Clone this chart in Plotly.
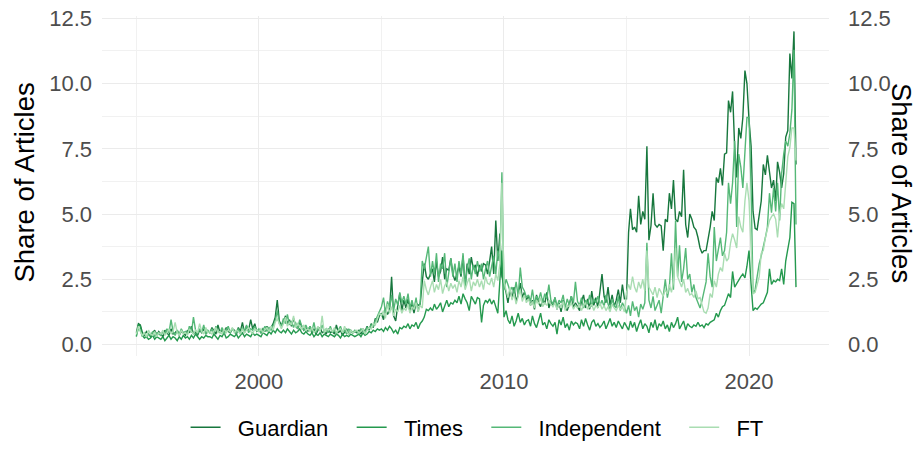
import pandas as pd
import plotly.graph_objects as go

# Monthly share of articles, Jan 1995 - Dec 2021
start_month = "1995-01-01"
series_names = ["Guardian", "Times", "Independent", "FT"]

guardian = [
    0.45, 0.80, 0.75, 0.45, 0.35, 0.50, 0.40, 0.30, 0.45, 0.55, 0.35, 0.50,  # 1995
    0.40, 0.30, 0.55, 0.45, 0.35, 0.60, 0.40, 0.45, 0.55, 0.35, 0.50, 0.45,  # 1996
    0.35, 0.55, 0.45, 0.70, 0.40, 0.50, 0.35, 0.55, 0.45, 0.60, 0.40, 0.50,  # 1997
    0.45, 0.65, 0.50, 0.40, 0.75, 0.45, 0.55, 0.40, 0.65, 0.50, 0.45, 0.60,  # 1998
    0.55, 0.40, 0.65, 0.50, 0.85, 0.45, 0.70, 0.55, 0.95, 0.60, 0.80, 0.50,  # 1999
    0.55, 0.45, 0.60, 0.50, 0.70, 0.55, 0.65, 0.80, 1.05, 1.70, 0.90, 0.75,  # 2000
    0.85, 1.10, 0.80, 0.95, 0.70, 1.00, 0.75, 0.60, 0.85, 0.70, 0.55, 0.65,  # 2001
    0.50, 0.70, 0.45, 0.60, 0.40, 0.55, 0.65, 0.45, 0.50, 0.40, 0.60, 0.45,  # 2002
    0.50, 0.40, 0.75, 0.45, 0.55, 0.35, 0.50, 0.60, 0.40, 0.55, 0.45, 0.50,  # 2003
    0.45, 0.55, 0.40, 0.60, 0.50, 0.70, 0.55, 0.80, 0.65, 1.00, 0.85, 1.10,  # 2004
    1.20, 0.95, 1.40, 1.15, 1.30, 2.60, 1.10, 0.90, 1.50, 1.95, 1.30, 1.70,  # 2005
    1.40, 1.75, 1.25, 1.55, 1.20, 1.60, 1.50, 1.55, 2.40, 3.10, 2.60, 2.50,  # 2006
    2.70, 2.90, 2.40, 3.20, 2.60, 2.80, 3.35, 2.50, 2.90, 2.85, 3.30, 2.70,  # 2007
    2.45, 2.80, 3.00, 2.60, 3.40, 2.20, 3.10, 2.70, 3.35, 2.90, 3.05, 2.60,  # 2008
    3.05, 2.80, 3.10, 3.05, 2.70, 3.20, 3.75, 2.70, 4.75, 3.20, 4.25, 2.60,  # 2009
    2.30, 2.00, 1.60, 2.10, 1.75, 2.20, 1.65, 1.90, 2.35, 1.80, 2.00, 1.70,  # 2010
    1.85, 1.50, 1.70, 1.35, 1.90, 1.60, 1.45, 1.75, 1.55, 2.00, 1.40, 1.65,  # 2011
    1.50, 1.80, 1.35, 1.60, 1.25, 1.70, 1.45, 1.30, 1.55, 1.85, 1.40, 1.60,  # 2012
    1.45, 1.30, 1.65, 1.90, 1.40, 1.75, 1.35, 2.05, 1.50, 1.80, 1.40, 1.95,  # 2013
    2.70, 1.85, 1.60, 2.20, 1.50, 1.90, 1.45, 1.70, 2.10, 1.60, 2.30, 1.75,  # 2014
    1.75, 4.30, 5.20, 4.40, 4.50, 4.30, 5.70, 4.60, 5.10, 4.80, 7.60, 4.00,  # 2015
    4.55, 5.80, 4.60, 4.50, 4.60, 4.55, 3.60, 4.80, 4.70, 5.80, 5.20, 6.30,  # 2016
    4.80, 4.70, 5.10, 4.90, 6.70, 4.60, 4.10, 5.00, 4.80, 4.50, 4.40, 4.10,  # 2017
    3.70, 3.50, 3.60, 3.60, 4.00, 4.50, 5.10, 4.75, 6.40, 6.20, 6.75, 6.10,  # 2018
    7.30, 7.35, 9.35, 8.90, 9.70, 7.55, 6.40, 8.30, 7.90, 8.70, 10.50, 10.00,  # 2019
    8.60, 7.60, 5.10, 4.45, 4.40, 4.90, 5.50, 6.90, 6.50, 7.25, 6.60, 6.00,  # 2020
    6.30, 5.50, 7.00, 6.60, 6.00, 6.55, 7.95, 8.20, 11.15, 10.20, 12.00, 6.90,  # 2021
]

times = [
    0.30, 0.75, 0.70, 0.35, 0.25, 0.30, 0.20, 0.25, 0.35, 0.20, 0.30, 0.25,  # 1995
    0.20, 0.30, 0.15, 0.25, 0.35, 0.20, 0.30, 0.25, 0.15, 0.30, 0.20, 0.35,  # 1996
    0.25, 0.30, 0.20, 0.35, 0.25, 0.40, 0.30, 0.20, 0.30, 0.25, 0.35, 0.30,  # 1997
    0.30, 0.25, 0.40, 0.30, 0.20, 0.35, 0.30, 0.45, 0.25, 0.30, 0.40, 0.35,  # 1998
    0.30, 0.40, 0.25, 0.35, 0.45, 0.30, 0.40, 0.35, 0.30, 0.45, 0.35, 0.40,  # 1999
    0.35, 0.30, 0.45, 0.40, 0.35, 0.50, 0.40, 0.55, 0.45, 0.60, 0.50, 0.45,  # 2000
    0.55, 0.45, 0.60, 0.50, 0.40, 0.55, 0.45, 0.50, 0.60, 0.45, 0.40, 0.50,  # 2001
    0.40, 0.35, 0.45, 0.30, 0.40, 0.35, 0.45, 0.30, 0.40, 0.35, 0.30, 0.40,  # 2002
    0.35, 0.30, 0.40, 0.35, 0.25, 0.40, 0.30, 0.35, 0.30, 0.40, 0.35, 0.30,  # 2003
    0.35, 0.40, 0.30, 0.45, 0.35, 0.40, 0.50, 0.45, 0.55, 0.50, 0.60, 0.55,  # 2004
    0.60, 0.50, 0.65, 0.55, 0.70, 0.60, 0.45, 0.55, 0.40, 0.65, 0.60, 0.70,  # 2005
    0.65, 0.80, 0.60, 0.75, 0.70, 0.85, 0.60, 0.80, 0.90, 1.05, 1.35, 1.30,  # 2006
    1.40, 1.30, 1.55, 1.35, 1.45, 1.60, 1.25, 1.50, 1.70, 1.45, 1.60, 1.55,  # 2007
    1.70, 1.60, 1.85, 1.55, 1.95, 1.75, 1.60, 1.30, 1.85, 1.70, 1.55, 1.80,  # 2008
    1.75, 0.85, 1.50, 1.70, 1.60, 1.75, 1.55, 1.70, 1.45, 1.20, 2.45, 3.60,  # 2009
    1.05, 1.30, 0.95, 0.80, 1.10, 0.70, 0.90, 1.20, 0.85, 1.00, 0.75, 0.90,  # 2010
    0.95, 0.70, 1.10, 0.80, 0.65, 0.90, 1.20, 0.75, 0.85, 0.60, 0.95, 0.80,  # 2011
    0.70, 0.85, 0.40, 0.95, 0.75, 1.05, 0.65, 0.80, 0.55, 0.90, 0.75, 0.85,  # 2012
    0.80, 0.60, 0.95, 0.70, 1.00, 0.75, 0.55, 0.85, 0.95, 0.70, 0.80, 0.65,  # 2013
    0.75, 0.90, 0.60, 0.80, 1.00, 0.70, 0.85, 0.65, 0.90, 0.75, 0.60, 0.85,  # 2014
    0.70, 0.55, 0.90, 0.65, 0.85, 0.50, 0.75, 0.95, 0.60, 0.80, 0.70, 0.45,  # 2015
    0.85, 0.65, 0.95, 0.55, 0.80, 0.70, 0.90, 0.60, 0.75, 0.50, 0.85, 0.65,  # 2016
    0.80, 1.05, 0.60, 0.75, 0.90, 0.55, 0.80, 0.70, 0.65, 0.75, 0.70, 0.85,  # 2017
    0.70, 0.75, 0.65, 0.80, 0.75, 0.85, 0.90, 0.95, 1.20, 1.05, 1.30, 1.45,  # 2018
    1.50, 1.70, 1.95, 1.80, 2.80, 2.20, 2.35, 2.50, 2.60, 2.70, 2.55, 3.00,  # 2019
    3.60, 2.30, 1.30, 1.40, 1.35, 1.45, 1.55, 1.60, 1.80, 2.00, 2.90, 2.30,  # 2020
    2.45, 2.40, 2.50, 2.45, 2.90, 2.30, 3.20, 3.70, 4.10, 5.45, 5.40, 2.20,  # 2021
]

independent = [
    0.35, 0.60, 0.55, 0.30, 0.45, 0.25, 0.40, 0.35, 0.50, 0.30, 0.45, 0.40,  # 1995
    0.35, 0.50, 0.40, 0.60, 0.45, 0.95, 0.50, 0.35, 0.55, 0.40, 0.60, 0.45,  # 1996
    0.50, 0.40, 0.70, 0.45, 1.05, 0.55, 0.40, 0.60, 0.45, 0.75, 0.40, 0.55,  # 1997
    0.45, 0.60, 0.40, 0.70, 0.50, 0.45, 0.65, 0.40, 0.55, 0.70, 0.45, 0.60,  # 1998
    0.50, 0.45, 0.60, 0.40, 0.65, 0.50, 0.75, 0.45, 0.60, 0.55, 0.70, 0.50,  # 1999
    0.60, 0.45, 0.55, 0.70, 0.50, 0.65, 0.55, 0.75, 0.90, 1.30, 0.80, 0.70,  # 2000
    1.00, 0.80, 1.15, 0.75, 0.90, 0.65, 0.85, 0.60, 0.95, 0.70, 0.55, 0.75,  # 2001
    0.55, 0.70, 0.50, 0.85, 0.45, 0.65, 0.55, 0.75, 0.50, 0.60, 0.45, 0.70,  # 2002
    0.45, 0.60, 0.40, 0.55, 0.70, 0.45, 0.55, 0.40, 0.60, 0.50, 0.45, 0.55,  # 2003
    0.50, 0.40, 0.60, 0.55, 0.45, 0.65, 0.60, 0.75, 0.70, 0.90, 1.10, 1.30,  # 2004
    1.45, 1.80, 1.20, 1.65, 1.40, 1.90, 1.30, 1.75, 1.50, 2.00, 1.60, 1.85,  # 2005
    1.55, 1.95, 1.40, 1.70, 1.35, 1.80, 1.25, 1.60, 3.20, 2.90, 3.40, 3.75,  # 2006
    2.60, 3.20, 2.70, 3.50, 2.40, 3.10, 2.90, 3.50, 2.20, 2.75, 3.30, 2.60,  # 2007
    3.10, 2.40, 3.20, 2.70, 3.50, 2.20, 2.90, 3.30, 2.50, 3.05, 2.70, 3.20,  # 2008
    2.80, 3.10, 2.50, 2.90, 3.20, 2.60, 3.00, 3.40, 2.70, 3.60, 3.20, 6.60,  # 2009
    2.10, 2.50, 2.30, 2.05, 2.20, 1.95, 2.40, 1.85, 2.95, 2.20, 2.05, 1.80,  # 2010
    1.90, 1.65, 2.10, 1.55, 1.85, 1.70, 2.00, 1.60, 1.95, 1.75, 2.30, 1.70,  # 2011
    1.55, 1.80, 1.45, 1.70, 1.60, 1.90, 1.40, 1.75, 1.50, 1.85, 1.60, 2.40,  # 2012
    1.65, 1.50, 1.80, 1.40, 1.70, 1.55, 1.90, 1.45, 1.75, 1.60, 1.85, 1.50,  # 2013
    1.70, 1.45, 1.90, 1.55, 1.35, 1.75, 1.50, 1.40, 1.85, 1.30, 1.60, 1.45,  # 2014
    1.20, 1.50, 1.10, 1.65, 1.30, 1.45, 1.05, 1.55, 1.35, 1.60, 3.90, 1.70,  # 2015
    1.40, 1.85, 1.30, 1.55, 1.70, 1.20, 1.95, 2.50, 1.80, 2.20, 3.50, 2.10,  # 2016
    4.75, 2.60, 3.80, 2.40, 2.90, 3.70, 2.50, 2.70, 2.00, 2.30, 1.80, 1.60,  # 2017
    1.40, 1.70, 2.00, 2.40, 3.50, 2.60, 2.20, 4.50, 3.20, 3.60, 4.10, 3.40,  # 2018
    3.60, 4.30, 6.20, 5.40, 6.20, 7.80, 4.50, 7.30, 6.80, 6.00, 7.55, 8.70,  # 2019
    8.70, 6.00, 1.95, 2.10, 2.60, 3.10, 3.40, 3.70, 4.10, 4.50, 5.80, 5.05,  # 2020
    6.00, 5.10, 6.20, 4.75, 6.55, 7.30, 7.80, 7.60, 8.10, 9.00, 11.30, 4.60,  # 2021
]

ft = [
    0.40, 0.70, 0.50, 0.35, 0.45, 0.30, 0.55, 0.40, 0.35, 0.50, 0.30, 0.45,  # 1995
    0.40, 0.55, 0.35, 0.45, 0.60, 0.40, 0.50, 0.85, 0.45, 0.35, 0.55, 0.40,  # 1996
    0.45, 0.35, 0.60, 0.50, 0.40, 0.55, 0.45, 0.80, 0.50, 0.40, 0.65, 0.45,  # 1997
    0.50, 0.40, 0.55, 0.65, 0.45, 0.50, 0.40, 0.60, 0.45, 0.55, 0.50, 0.65,  # 1998
    0.45, 0.55, 0.50, 0.40, 0.60, 0.45, 0.55, 0.65, 0.50, 0.40, 0.60, 0.55,  # 1999
    0.50, 0.60, 0.45, 0.55, 0.65, 0.50, 0.70, 0.55, 0.85, 1.00, 0.75, 0.60,  # 2000
    0.80, 1.05, 0.70, 0.85, 0.75, 1.10, 0.65, 0.80, 0.70, 0.60, 0.75, 0.55,  # 2001
    0.60, 0.50, 0.65, 0.45, 0.55, 0.70, 0.50, 1.10, 0.45, 0.60, 0.55, 0.60,  # 2002
    0.50, 0.65, 0.45, 0.55, 0.60, 0.45, 0.70, 0.50, 0.40, 0.55, 0.45, 0.50,  # 2003
    0.55, 0.45, 0.50, 0.60, 0.40, 0.55, 0.65, 0.60, 0.80, 0.75, 0.95, 1.20,  # 2004
    1.10, 1.30, 1.00, 1.55, 1.20, 1.45, 1.10, 1.35, 1.25, 1.50, 1.20, 1.40,  # 2005
    1.30, 1.55, 1.20, 1.45, 1.35, 1.60, 1.25, 1.50, 1.40, 2.45, 2.10, 1.90,  # 2006
    2.20, 2.45, 2.00, 2.30, 2.10, 2.50, 1.95, 2.25, 2.40, 2.05, 2.35, 2.15,  # 2007
    2.30, 2.00, 2.45, 2.20, 2.60, 2.10, 2.35, 2.55, 2.05, 2.40, 2.25, 2.50,  # 2008
    2.20, 2.45, 2.10, 2.60, 2.35, 2.30, 2.55, 2.20, 2.70, 2.45, 3.10, 6.20,  # 2009
    2.40, 2.05, 1.80, 2.20, 1.70, 1.95, 1.55, 1.85, 2.10, 1.65, 1.90, 1.60,  # 2010
    1.75, 1.50, 1.65, 1.40, 1.70, 1.55, 1.80, 1.45, 1.60, 1.50, 1.70, 1.55,  # 2011
    1.45, 1.60, 1.35, 1.55, 1.40, 1.65, 1.30, 1.50, 1.45, 1.60, 1.35, 1.50,  # 2012
    1.40, 1.55, 1.30, 1.50, 1.60, 1.35, 1.45, 1.55, 1.30, 1.50, 1.40, 1.60,  # 2013
    1.35, 1.50, 1.30, 1.45, 1.25, 1.55, 1.40, 1.30, 1.50, 1.35, 1.45, 1.25,  # 2014
    2.00, 2.30, 2.10, 2.60, 2.20, 2.00, 2.40, 2.15, 2.50, 2.05, 3.60, 2.20,  # 2015
    2.05, 1.90, 2.20, 1.80, 2.15, 2.00, 1.85, 2.10, 1.95, 2.30, 2.00, 2.40,  # 2016
    3.70, 2.60, 2.40, 2.20, 2.50, 2.00, 2.15, 1.90, 1.95, 1.80, 2.05, 1.75,  # 2017
    1.80, 1.50, 1.25, 1.20, 1.40, 1.95, 1.80, 2.45, 2.20, 2.70, 2.95, 2.80,  # 2018
    3.50, 3.20, 3.30, 3.90, 4.25, 4.00, 3.70, 4.90, 4.50, 4.30, 5.50, 6.20,  # 2019
    5.50, 3.70, 1.95, 2.00, 2.35, 2.60, 3.50, 3.60, 4.10, 4.40, 4.75, 4.90,  # 2020
    5.00, 4.80, 4.10, 5.00, 5.40, 5.20, 6.30, 7.20, 7.55, 8.30, 8.30, 7.05,  # 2021
]

colors = ["#17773d", "#24994e", "#55b877", "#a9ddb2"]

y_ticks = [0, 2.5, 5, 7.5, 10, 12.5]
y_tick_labels = ["0.0", "2.5", "5.0", "7.5", "10.0", "12.5"]

n = len(guardian)
assert n == len(times) == len(independent) == len(ft), (len(guardian), len(times), len(independent), len(ft))
dates = pd.date_range(start_month, periods=n, freq="MS")

NB = "\u00a0"
fig = go.Figure()
for name, vals, col in zip(series_names, [guardian, times, independent, ft], colors):
    fig.add_trace(go.Scatter(x=dates, y=vals, mode="lines", name=NB * 2 + name + NB * 3,
                             line=dict(color=col, width=1.4)))

# dummy trace to display the mirrored right axis
fig.add_trace(go.Scatter(x=[dates[0]], y=[None], yaxis="y2", showlegend=False,
                         hoverinfo="skip", mode="lines"))

grid = "#ebebeb"
tick_font = dict(family="Liberation Sans, Arial, sans-serif", size=22, color="#4d4d4d")
y_range = [-0.44, 12.59]

fig.update_layout(
    width=919, height=473,
    margin=dict(l=102, r=90, t=16, b=117),
    paper_bgcolor="white", plot_bgcolor="white",
    font=dict(family="Liberation Sans, Arial, sans-serif", size=22, color="black"),
    xaxis=dict(
        type="date",
        range=["1993-08-07", "2023-04-07"],
        tick0="2000-01-01", dtick="M120", tickformat="%Y",
        showgrid=True, gridcolor=grid, gridwidth=1.3,
        minor=dict(tick0="1995-01-01", dtick="M60", showgrid=True, gridcolor="#f1f1f1", gridwidth=0.8),
        zeroline=False, showline=False, ticks="", automargin=False,
        tickfont=tick_font, ticklabelstandoff=10,
    ),
    yaxis=dict(
        range=y_range, tickvals=y_ticks, ticktext=y_tick_labels,
        showgrid=True, gridcolor=grid, gridwidth=1.3,
        minor=dict(tickvals=[1.25, 3.75, 6.25, 8.75, 11.25], showgrid=True, gridcolor="#f1f1f1", gridwidth=0.8),
        zeroline=False, showline=False, ticks="", automargin=False,
        tickfont=tick_font, ticklabelstandoff=9,
    ),
    yaxis2=dict(
        range=y_range, tickvals=y_ticks, ticktext=y_tick_labels,
        overlaying="y", side="right", showgrid=False, zeroline=False, automargin=False,
        showline=False, ticks="", tickfont=tick_font, ticklabelstandoff=18,
    ),
    legend=dict(
        orientation="h", x=0.529, xanchor="center", y=-0.21, yanchor="middle",
        font=dict(size=22, color="black"), bgcolor="rgba(0,0,0,0)",
    ),
    annotations=[
        dict(text="Share of Articles", xref="paper", yref="paper", x=-0.106, y=0.51,
             textangle=-90, showarrow=False, font=dict(size=27.5, color="black"),
             xanchor="center", yanchor="middle"),
        dict(text="Share of Articles", xref="paper", yref="paper", x=1.1, y=0.51,
             textangle=90, showarrow=False, font=dict(size=27.5, color="black"),
             xanchor="center", yanchor="middle"),
    ],
    showlegend=True,
)

fig.write_html("out.html", config={"displayModeBar": False},
               post_script="document.body.style.margin='0';")
